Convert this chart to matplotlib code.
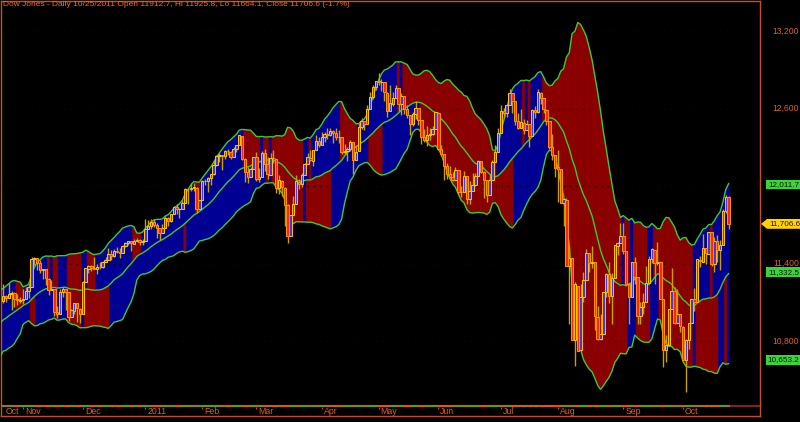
import numpy as np
import pandas as pd
import matplotlib
matplotlib.use("Agg")
import matplotlib.pyplot as plt
from matplotlib.collections import PolyCollection, LineCollection
from matplotlib.patches import Rectangle, Polygon

# ---------------- data ----------------
SYMBOL = "Dow Jones"
PERIOD_NAME = "Daily"
LAST_DATE = "10/25/2011"
LAST_OPEN, LAST_HIGH, LAST_LOW, LAST_CLOSE = 11912.7, 11925.8, 11664.1, 11706.6
CHANGE_PCT = -1.7
LAST_UPPER, LAST_MID, LAST_LOWER = 12011.7, 11332.5, 10653.2

START_DATE = "2010-10-21"
END_DATE = "2011-10-25"
HOLIDAYS = ["2010-11-25", "2010-12-24", "2011-01-17", "2011-02-21",
            "2011-04-22", "2011-05-30", "2011-07-04", "2011-09-05"]

# closes of the 21 sessions before the first plotted day (band warm-up)
PRE_CLOSE = [10739, 10662, 10860, 10812, 10858, 10835, 10788, 10830, 10752, 10944,
             10968, 10948, 11006, 11011, 11021, 11097, 11095, 11063, 11143, 10979, 11108]

OPEN = [
    11109, 11146, 11134, 11163, 11168, 11127, 11113,
    11120, 11126, 11189, 11217, 11434, 11444, 11406, 11346, 11356, 11283, 11193, 11201, 11024, 11011, 11182, 11203, 11177, 10988, 11036, 11092, 11051,
    11007, 11255, 11361, 11381, 11362, 11359, 11372, 11370, 11410, 11428, 11475, 11456, 11499, 11490, 11479, 11533, 11559, 11572, 11554, 11575, 11584, 11569,
    11577, 11670, 11688, 11722, 11696, 11674, 11638, 11673, 11755, 11731, 11787, 11837, 11822, 11822, 11871, 11980, 11976, 11984, 11988, 11824,
    11892, 12040, 12040, 12061, 12092, 12161, 12233, 12239, 12229, 12273, 12267, 12226, 12287, 12318, 12390, 12211, 12105, 12068, 12130,
    12226, 12058, 12066, 12258, 12170, 12089, 12214, 12212, 11984, 12041, 11988, 11853, 11614, 11776, 11860, 12034, 12016, 12085, 12170, 12220, 12196, 12279, 12350,
    12321, 12376, 12399, 12393, 12426, 12408, 12380, 12381, 12262, 12269, 12284, 12340, 12202, 12268, 12454, 12505, 12479, 12596, 12690, 12763,
    12810, 12806, 12806, 12723, 12584, 12638, 12684, 12760, 12631, 12695, 12595, 12547, 12480, 12560, 12605, 12511, 12381, 12356, 12394, 12402, 12442,
    12569, 12290, 12247, 12151, 12090, 12070, 12048, 12124, 11951, 11952, 12076, 11897, 11962, 12004, 12079, 12190, 12107, 12050, 11934, 12043, 12188, 12262,
    12414, 12580, 12568, 12625, 12718, 12655, 12504, 12446, 12491, 12437, 12479, 12385, 12587, 12571, 12723, 12680, 12592, 12501, 12302, 12239,
    12144, 12130, 11866, 11894, 11383, 11444, 10810, 11228, 10729, 11143, 11269, 11480, 11405, 11408, 10989, 10817, 10855, 11176, 11320, 11150, 11286, 11537, 11559,
    11613, 11493, 11240, 11140, 11414, 11294, 10990, 11061, 11105, 11247, 11433, 11508, 11402, 11408, 11124, 10733, 10771, 11045, 11190, 10940, 11010,
    10912, 10655, 10806, 10939, 11122, 11104, 11431, 11415, 11517, 11477, 11643, 11396, 11576, 11503, 11543, 11808, 11913,
]
HIGH = [
    11244, 11159, 11246, 11188, 11177, 11164, 11143,
    11202, 11217, 11247, 11452, 11451, 11445, 11424, 11359, 11360, 11284, 11274, 11203, 11069, 11204, 11216, 11205, 11177, 11044, 11092, 11092, 11055,
    11265, 11367, 11389, 11386, 11453, 11393, 11413, 11420, 11452, 11521, 11501, 11510, 11526, 11521, 11545, 11566, 11577, 11575, 11591, 11600, 11589, 11586,
    11742, 11736, 11742, 11742, 11712, 11674, 11707, 11765, 11757, 11787, 11845, 11861, 11830, 11892, 11983, 11977, 12020, 12021, 11990, 11895,
    12050, 12055, 12071, 12092, 12201, 12243, 12256, 12240, 12276, 12285, 12268, 12305, 12319, 12391, 12390, 12213, 12146, 12144, 12228,
    12267, 12139, 12268, 12284, 12228, 12259, 12280, 12212, 12082, 12044, 11993, 11862, 11776, 11924, 12088, 12052, 12099, 12178, 12259, 12276, 12280, 12391, 12381,
    12419, 12417, 12451, 12451, 12431, 12451, 12431, 12382, 12327, 12303, 12358, 12342, 12317, 12491, 12525, 12506, 12630, 12730, 12781, 12811,
    12876, 12832, 12807, 12726, 12779, 12726, 12779, 12761, 12721, 12697, 12630, 12552, 12573, 12661, 12605, 12511, 12438, 12467, 12447, 12468, 12570,
    12570, 12321, 12248, 12179, 12154, 12108, 12147, 12125, 12000, 12115, 12076, 12035, 12097, 12098, 12205, 12191, 12113, 12050, 12096, 12198, 12319, 12448,
    12624, 12601, 12632, 12753, 12719, 12655, 12566, 12597, 12521, 12510, 12479, 12597, 12619, 12751, 12724, 12680, 12593, 12501, 12401, 12240,
    12282, 12130, 11905, 11904, 11530, 11444, 11254, 11228, 11244, 11335, 11516, 11481, 11532, 11408, 11074, 11011, 11177, 11328, 11409, 11329, 11540, 11570, 11717,
    11717, 11493, 11240, 11415, 11452, 11294, 11102, 11174, 11382, 11456, 11521, 11508, 11570, 11408, 11124, 10849, 11043, 11369, 11217, 11203, 11010,
    10913, 10812, 10940, 11123, 11211, 11433, 11461, 11628, 11519, 11645, 11644, 11607, 11619, 11580, 11819, 11931, 11926,
]
LOW = [
    11098, 11101, 11134, 11040, 11067, 11078, 11091,
    11083, 11124, 11131, 11219, 11390, 11351, 11327, 11283, 11235, 11155, 11193, 10993, 10978, 11010, 11137, 11043, 10956, 10988, 11008, 10947, 10938,
    11006, 11254, 11330, 11341, 11358, 11320, 11359, 11367, 11410, 11425, 11426, 11449, 11482, 11440, 11479, 11529, 11544, 11494, 11549, 11573, 11547, 11541,
    11577, 11667, 11670, 11681, 11599, 11584, 11638, 11673, 11693, 11724, 11784, 11782, 11754, 11822, 11869, 11861, 11960, 11960, 11793, 11822,
    11892, 12006, 11951, 12010, 12087, 12155, 12185, 12124, 12207, 12240, 12206, 12226, 12261, 12314, 12199, 12031, 12026, 12066, 12130,
    12038, 12033, 12066, 12113, 12055, 12089, 12177, 11942, 11941, 11922, 11689, 11555, 11614, 11776, 11860, 11980, 11996, 12084, 12170, 12194, 12152, 12279, 12303,
    12321, 12343, 12361, 12387, 12334, 12354, 12332, 12244, 12250, 12195, 12272, 12094, 12202, 12268, 12439, 12432, 12479, 12594, 12676, 12741,
    12781, 12739, 12659, 12538, 12584, 12621, 12684, 12581, 12553, 12560, 12527, 12393, 12466, 12515, 12474, 12322, 12344, 12313, 12359, 12397, 12442,
    12276, 12231, 12049, 12052, 12063, 12036, 12048, 11935, 11913, 11952, 11862, 11863, 11962, 12003, 12079, 12097, 11908, 11874, 11934, 12043, 12188, 12262,
    12414, 12527, 12536, 12625, 12562, 12473, 12439, 12446, 12404, 12437, 12300, 12385, 12526, 12566, 12635, 12562, 12476, 12287, 12203, 12071,
    11880, 11865, 11694, 11383, 10933, 10809, 10604, 10719, 10729, 11105, 11269, 11334, 11363, 10883, 10811, 10810, 10855, 11138, 11095, 10929, 11286, 11468, 11559,
    11476, 11234, 10935, 11140, 11243, 10933, 10933, 11011, 11105, 11247, 11407, 11240, 11385, 11124, 10597, 10639, 10771, 11045, 10935, 10940, 10871,
    10654, 10404, 10735, 10938, 11031, 11104, 11373, 11415, 11398, 11477, 11377, 11336, 11414, 11348, 11543, 11788, 11664,
]
CLOSE = [
    11147, 11133, 11165, 11170, 11127, 11114, 11118,
    11125, 11188, 11216, 11434, 11445, 11406, 11347, 11357, 11284, 11193, 11202, 11023, 11008, 11182, 11204, 11178, 10988, 11037, 11092, 11052, 11006,
    11256, 11362, 11382, 11362, 11359, 11373, 11370, 11411, 11428, 11476, 11457, 11500, 11491, 11479, 11534, 11560, 11574, 11555, 11576, 11585, 11570, 11578,
    11671, 11691, 11723, 11697, 11675, 11638, 11672, 11755, 11732, 11787, 11838, 11825, 11823, 11872, 11980, 11977, 11985, 11989, 11824, 11892,
    12040, 12041, 12062, 12092, 12161, 12234, 12240, 12230, 12273, 12268, 12227, 12288, 12318, 12391, 12212, 12106, 12068, 12130, 12226,
    12058, 12066, 12258, 12170, 12090, 12214, 12213, 11985, 12044, 11993, 11855, 11613, 11775, 11859, 12036, 12018, 12086, 12171, 12221, 12198, 12280, 12351, 12320,
    12377, 12400, 12394, 12427, 12409, 12381, 12382, 12263, 12270, 12285, 12342, 12202, 12267, 12453, 12506, 12479, 12595, 12691, 12764, 12811,
    12808, 12807, 12724, 12584, 12639, 12685, 12761, 12631, 12696, 12596, 12548, 12480, 12560, 12606, 12512, 12381, 12356, 12395, 12403, 12441, 12570,
    12290, 12248, 12152, 12090, 12071, 12049, 12125, 11952, 11953, 12076, 11897, 11962, 12004, 12080, 12191, 12110, 12050, 11934, 12043, 12188, 12262, 12414,
    12582, 12569, 12626, 12719, 12657, 12505, 12447, 12492, 12437, 12480, 12385, 12588, 12572, 12724, 12681, 12593, 12502, 12303, 12240, 12143,
    12132, 11867, 11897, 11384, 11445, 10810, 11239, 10720, 11143, 11270, 11482, 11406, 11410, 10991, 10817, 10855, 11177, 11320, 11150, 11285, 11540, 11560, 11614,
    11494, 11240, 11139, 11415, 11295, 10993, 11062, 11105, 11247, 11434, 11509, 11401, 11409, 11125, 10734, 10771, 11044, 11191, 10939, 11011, 10913,
    10655, 10809, 10940, 11123, 11103, 11433, 11416, 11519, 11478, 11644, 11397, 11577, 11505, 11542, 11809, 11914, 11707,
]

BAND_PERIOD = 20
BAND_K = 2.0
GRID_LEVELS = [10800, 11400, 12000, 12600, 13200]
PRICE_LABELS = [10800, 11400, 12600, 13200]
MONTH_NAMES = {1: "2011", 2: "Feb", 3: "Mar", 4: "Apr", 5: "May", 6: "Jun", 7: "Jul",
               8: "Aug", 9: "Sep", 10: "Oct", 11: "Nov", 12: "Dec"}

# ---------------- style ----------------
BG = "black"
FRAME = "#C8501E"
TXT = "#E0601E"
BLUE_FILL = "#000096"
RED_FILL = "#8C0000"
BAND_LINE = "#3CCB2C"
WICK = "#C8A000"
FONT = "Liberation Sans"

W, H = 800, 422
def fx(px): return px / W
def fy(py): return 1 - py / H

X0_PX, DX_PX = 3.1, 2.845     # pixel of first session and pixel spacing
AX_L, AX_R, AX_T, AX_B = 1, 760, 1, 405
PX_PER_PT = 0.12917           # vertical pixels per index point
Y_REF_PX, Y_REF_VAL = 31, 13200

dates = pd.bdate_range(START_DATE, END_DATE, freq="C", holidays=HOLIDAYS)
n = len(CLOSE)
assert len(dates) == n == len(OPEN) == len(HIGH) == len(LOW)

o = np.array(OPEN, float); h = np.array(HIGH, float)
l = np.array(LOW, float); c = np.array(CLOSE, float)

allc = pd.Series(PRE_CLOSE + CLOSE, dtype=float)
mid_all = allc.rolling(BAND_PERIOD).mean().to_numpy()
sd_all = allc.rolling(BAND_PERIOD).std(ddof=0).to_numpy()
up_all = mid_all + BAND_K * sd_all
lo_all = mid_all - BAND_K * sd_all
k = len(PRE_CLOSE)

fig = plt.figure(figsize=(8, 4.22), dpi=100, facecolor=BG)
ax = fig.add_axes([fx(AX_L), fy(AX_B), fx(AX_R) - fx(AX_L), fy(AX_T) - fy(AX_B)])
ax.set_facecolor(BG)
xmin = (AX_L - X0_PX) / DX_PX
xmax = (AX_R - X0_PX) / DX_PX
ymin = Y_REF_VAL - (AX_B - Y_REF_PX) / PX_PER_PT
ymax = Y_REF_VAL + (Y_REF_PX - AX_T) / PX_PER_PT
ax.set_xlim(xmin, xmax)
ax.set_ylim(ymin, ymax)

# ---------------- band fills ----------------
up_polys, up_cols, lo_polys, lo_cols = [], [], [], []
for i in range(-1, n):
    j = k + i
    xl = i - 0.5
    xr = i + 0.5 if i < n - 1 else i + 0.25
    def edges(a):
        left = (a[j - 1] + a[j]) / 2
        right = (a[j] + a[j + 1]) / 2 if i < n - 1 else a[j]
        return left, a[j], right
    uL, uC, uR = edges(up_all)
    mL, mC, mR = edges(mid_all)
    lL, lC, lR = edges(lo_all)
    mid_up = mid_all[j] > mid_all[j - 1]
    up_polys.append([(xl, uL), (i, uC), (xr, uR), (xr, mR), (i, mC), (xl, mL)])
    up_cols.append(BLUE_FILL if (up_all[j] > up_all[j - 1] and mid_up) else RED_FILL)
    lo_polys.append([(xl, mL), (i, mC), (xr, mR), (xr, lR), (i, lC), (xl, lL)])
    lo_cols.append(BLUE_FILL if (lo_all[j] > lo_all[j - 1] and mid_up) else RED_FILL)

ax.add_collection(PolyCollection(up_polys, facecolors=up_cols, edgecolors=up_cols, linewidths=0.4, zorder=1))
ax.add_collection(PolyCollection(lo_polys, facecolors=lo_cols, edgecolors=lo_cols, linewidths=0.4, zorder=1))

# dotted grid
ax.hlines(GRID_LEVELS, xmin, xmax, colors="#1a0000", linestyles=(0, (1, 4)), linewidth=0.9, zorder=2)

# band lines
xb = np.arange(-1, n)
for arr in (up_all, mid_all, lo_all):
    ax.plot(xb, arr[k - 1:], color=BAND_LINE, lw=1.0, zorder=3)

# candles
x = np.arange(n)
ax.vlines(x, np.minimum(l, np.minimum(o, c)), np.maximum(h, np.maximum(o, c)),
          colors=WICK, lw=1.0, zorder=4)
upm = c >= o
ax.bar(x[upm], (c - o)[upm], bottom=o[upm], width=0.85, color="#3838E8",
       edgecolor="#FFC000", linewidth=0.75, zorder=5)
ax.bar(x[~upm], (c - o)[~upm], bottom=o[~upm], width=0.85, color="#FF2400",
       edgecolor="#FF9000", linewidth=0.75, zorder=5)

ax.set_xticks([]); ax.set_yticks([])
for s in ("top", "left", "right"):
    ax.spines[s].set_color(FRAME); ax.spines[s].set_linewidth(1.0)
ax.spines["bottom"].set_visible(False)

# ---------------- right-side labels ----------------
ytr = ax.get_yaxis_transform()
def axx(px): return (px - AX_L) / (AX_R - AX_L)

for v in PRICE_LABELS:
    ax.text(axx(799), v, f"{v:,}", transform=ytr, ha="right", va="center",
            fontsize=6.2, color=TXT, family=FONT, clip_on=False)

hh = 4.9 / PX_PER_PT
for v in (LAST_UPPER, LAST_MID, LAST_LOWER):
    ax.add_patch(Rectangle((axx(766), v - hh), axx(800) - axx(766), 2 * hh, transform=ytr,
                           facecolor="#3CD23C", edgecolor="none", clip_on=False, zorder=10))
    ax.text(axx(783.5), v, f"{v:,.1f}", transform=ytr, ha="center", va="center",
            fontsize=5.9, color="#002000", family=FONT, clip_on=False, zorder=11)

ax.add_patch(Polygon([(axx(761), LAST_CLOSE), (axx(767), LAST_CLOSE + hh), (axx(800), LAST_CLOSE + hh),
                      (axx(800), LAST_CLOSE - hh), (axx(767), LAST_CLOSE - hh)], closed=True,
                     transform=ytr, facecolor="#FFD200", edgecolor="none", clip_on=False, zorder=10))
ax.text(axx(784.5), LAST_CLOSE, f"{LAST_CLOSE:,.1f}", transform=ytr, ha="center", va="center",
        fontsize=5.9, color="#201800", family=FONT, clip_on=False, zorder=11)

# ---------------- title ----------------
title = (f"{SYMBOL} - {PERIOD_NAME} {LAST_DATE} Open {LAST_OPEN}, Hi {LAST_HIGH}, "
         f"Lo {LAST_LOW}, Close {LAST_CLOSE} ({CHANGE_PCT}%)")
fig.text(fx(3), fy(1.2), title, ha="left", va="top", fontsize=6.0, color="#F06C22", family=FONT)

# ---------------- date strip ----------------
ax2 = fig.add_axes([fx(AX_L), fy(416), fx(AX_R) - fx(AX_L), fy(404) - fy(416)])
ax2.set_facecolor(BG)
ax2.set_xlim(xmin, xmax)
ax2.set_ylim(12, 0)
ax2.set_xticks([]); ax2.set_yticks([])
for s in ("bottom", "left", "right"):
    ax2.spines[s].set_color(FRAME); ax2.spines[s].set_linewidth(1.0)
ax2.spines["top"].set_visible(False)

ax2.hlines(1.6, xmin, xmax, colors="#7A2A0A", lw=1.5, zorder=1)
prev = np.concatenate([[PRE_CLOSE[-1]], c[:-1]])
segs = [[(i - 0.5, 1.6), (i + 0.5, 1.6)] for i in range(n)]
scol = ["#5E9A14" if c[i] > prev[i] else "#E8501A" for i in range(n)]
ax2.add_collection(LineCollection(segs, colors=scol, linewidths=1.5, zorder=2))

months = dates.to_period("M")
first_idx = [0] + [i for i in range(1, n) if months[i] != months[i - 1]]
for m_i, i in enumerate(first_idx):
    name = MONTH_NAMES[dates[i].month]
    if m_i > 0:
        ax2.vlines(i, 2.6, 5.4, colors=FRAME, lw=0.8)
        tx = i + 0.7
    else:
        tx = i + 1.0
    ax2.text(tx, 9.8, name, ha="left", va="baseline", fontsize=6.3, color=TXT, family=FONT)

fig.savefig("out.png", dpi=100, facecolor=BG)
